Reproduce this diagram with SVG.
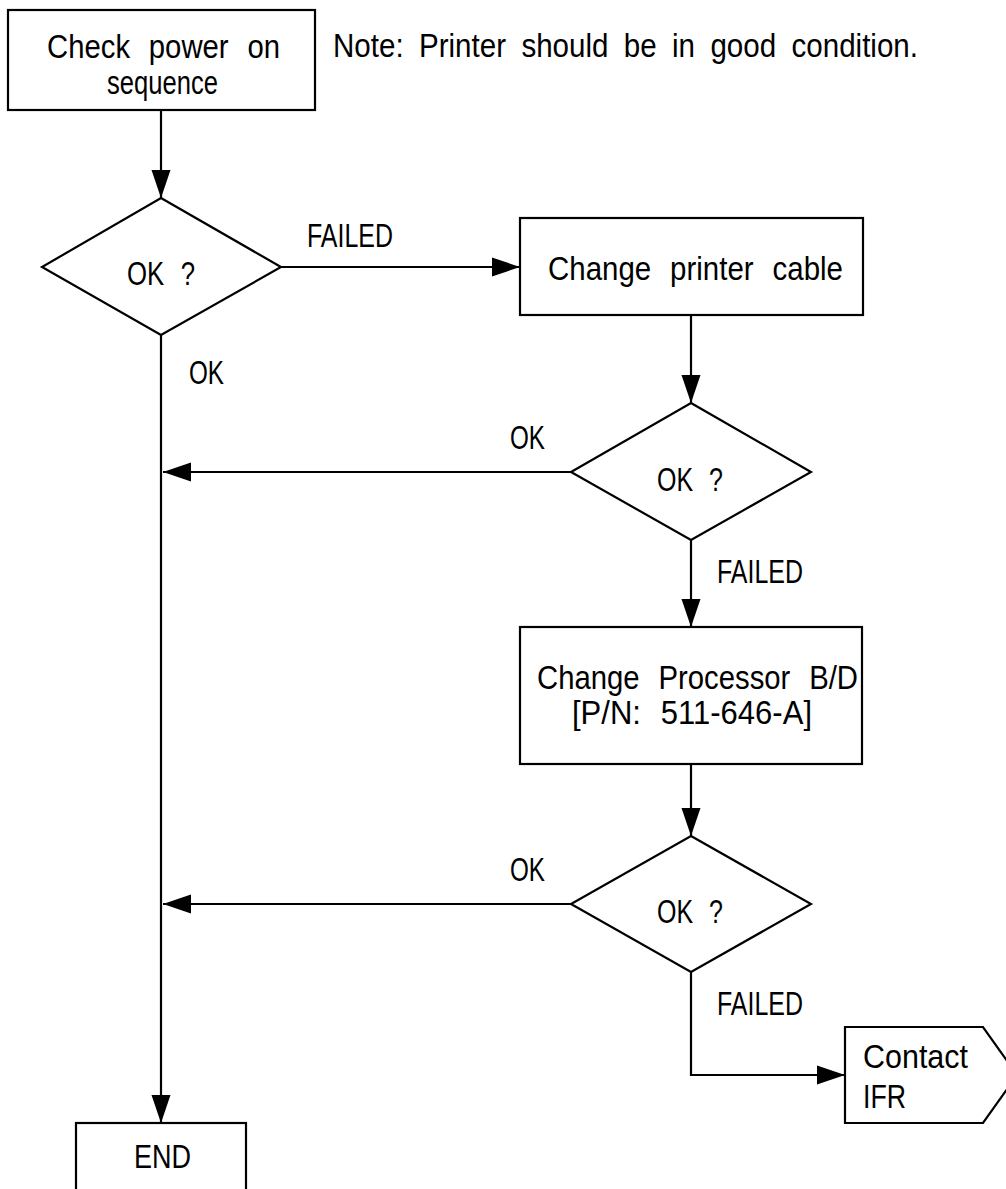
<svg xmlns="http://www.w3.org/2000/svg" width="1006" height="1189" viewBox="0 0 1006 1189">
<style>
.s{fill:#fff;stroke:#000;stroke-width:2.2}
.c{fill:none;stroke:#000;stroke-width:2.2}
text{font-family:"Liberation Sans",Arial,sans-serif;font-size:33px;fill:#000}
.w{word-spacing:12px}
.n{word-spacing:8px}
</style>
<defs>
<marker id="ah" markerUnits="userSpaceOnUse" markerWidth="28" markerHeight="20" refX="28" refY="10" orient="auto" viewBox="0 0 28 20">
<path d="M0,0.5 L28,10 L0,19.5 z" fill="#000"/>
</marker>
</defs>
<rect width="1006" height="1189" fill="#fff"/>
<g id="connectors">
<path class="c" d="M161,110 V198" marker-end="url(#ah)"/>
<path class="c" d="M281,267 H520" marker-end="url(#ah)"/>
<path class="c" d="M691,315 V403" marker-end="url(#ah)"/>
<path class="c" d="M571,472 H163" marker-end="url(#ah)"/>
<path class="c" d="M691,540 V627" marker-end="url(#ah)"/>
<path class="c" d="M691,764 V836" marker-end="url(#ah)"/>
<path class="c" d="M571,904 H163" marker-end="url(#ah)"/>
<path class="c" d="M691,972 V1075 H845" marker-end="url(#ah)"/>
<path class="c" d="M161,335 V1123" marker-end="url(#ah)"/>
<text x="307" y="247" textLength="86" lengthAdjust="spacingAndGlyphs">FAILED</text>
<text x="189" y="384" textLength="35" lengthAdjust="spacingAndGlyphs">OK</text>
<text x="510" y="449" textLength="35" lengthAdjust="spacingAndGlyphs">OK</text>
<text x="717" y="583" textLength="86" lengthAdjust="spacingAndGlyphs">FAILED</text>
<text x="510" y="881" textLength="35" lengthAdjust="spacingAndGlyphs">OK</text>
<text x="717" y="1015" textLength="86" lengthAdjust="spacingAndGlyphs">FAILED</text>
</g>
<g id="start">
<rect class="s" x="8" y="10" width="307" height="100"/>
<text class="w" x="47" y="58" textLength="233" lengthAdjust="spacingAndGlyphs">Check power on</text>
<text x="107" y="94" textLength="111" lengthAdjust="spacingAndGlyphs">sequence</text>
</g>
<g id="note">
<text class="n" x="333" y="57" textLength="585" lengthAdjust="spacingAndGlyphs">Note: Printer should be in good condition.</text>
</g>
<g id="decision1">
<polygon class="s" points="161,198 281,267 161,335 42,267"/>
<text class="w" x="127" y="285" textLength="68" lengthAdjust="spacingAndGlyphs">OK ?</text>
</g>
<g id="cable">
<rect class="s" x="520" y="218" width="343" height="97"/>
<text class="w" x="548" y="280" textLength="295" lengthAdjust="spacingAndGlyphs">Change printer cable</text>
</g>
<g id="decision2">
<polygon class="s" points="691,403 811,472 691,540 571,472"/>
<text class="w" x="657" y="491" textLength="66" lengthAdjust="spacingAndGlyphs">OK ?</text>
</g>
<g id="processor">
<rect class="s" x="520" y="627" width="342" height="137"/>
<text class="w" x="537" y="689" textLength="321" lengthAdjust="spacingAndGlyphs">Change Processor B/D</text>
<text class="w" x="572" y="724" textLength="240" lengthAdjust="spacingAndGlyphs">[P/N: 511-646-A]</text>
</g>
<g id="decision3">
<polygon class="s" points="691,836 811,904 691,972 571,904"/>
<text class="w" x="657" y="923" textLength="66" lengthAdjust="spacingAndGlyphs">OK ?</text>
</g>
<g id="contact">
<polygon class="s" points="845,1027 983,1027 1017,1075 983,1123 845,1123"/>
<text x="863" y="1068" textLength="105" lengthAdjust="spacingAndGlyphs">Contact</text>
<text x="863" y="1108" textLength="43" lengthAdjust="spacingAndGlyphs">IFR</text>
</g>
<g id="end">
<rect class="s" x="76" y="1123" width="170" height="80"/>
<text x="134" y="1168" textLength="57" lengthAdjust="spacingAndGlyphs">END</text>
</g>
</svg>
